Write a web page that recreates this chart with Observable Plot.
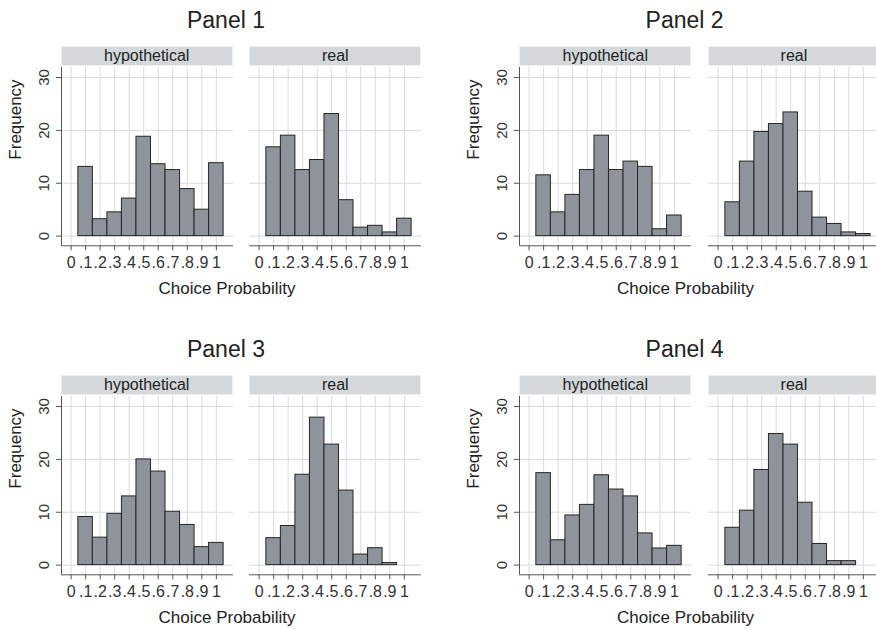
<!DOCTYPE html>
<html><head><meta charset="utf-8">
<script src="https://cdn.jsdelivr.net/npm/d3@7"></script>
<script src="https://cdn.jsdelivr.net/npm/@observablehq/plot@0.6"></script>
<style>
body{margin:0;background:#fff;font-family:"Liberation Sans",Arial,sans-serif;}
#root{position:relative;width:876px;height:629px;overflow:hidden;background:#fff}
.panel{position:absolute;width:458px;height:329px}
.title{position:absolute;left:0;width:452px;top:6px;text-align:center;font-size:23px;color:#222;line-height:28px}
.strip{position:absolute;top:45.7px;height:20.3px;width:172px;box-sizing:border-box;background:#d5d8db;border:1px solid #eceef0;text-align:center;font-size:16px;line-height:18px;color:#222}
.xlab{position:absolute;left:0;width:454px;top:278px;text-align:center;font-size:17px;color:#222;line-height:22px}
.plot{position:absolute}
.plot svg{overflow:visible}
</style></head><body><div id="root"></div>
<script>
// ---- data ----
const bins = [0.1, 0.2, 0.3, 0.4, 0.5, 0.6, 0.7, 0.8, 0.9, 1.0];
const binWidth = 0.1;
const panelTitles = ["Panel 1", "Panel 2", "Panel 3", "Panel 4"];
const groups = ["hypothetical", "real"];
const p1Hypothetical = [13.1, 3.2, 4.5, 7.1, 18.8, 13.6, 12.5, 8.9, 5.0, 13.8];
const p1Real         = [16.8, 19.0, 12.5, 14.4, 23.1, 6.8, 1.6, 1.95, 0.7, 3.3];
const p2Hypothetical = [11.5, 4.5, 7.8, 12.5, 19.0, 12.5, 14.1, 13.1, 1.3, 3.9];
const p2Real         = [6.4, 14.1, 19.7, 21.2, 23.4, 8.4, 3.5, 2.3, 0.7, 0.4];
const p3Hypothetical = [9.1, 5.2, 9.7, 13.0, 20.0, 17.7, 10.1, 7.6, 3.4, 4.2];
const p3Real         = [5.1, 7.4, 17.1, 27.9, 22.8, 14.1, 2.0, 3.2, 0.4, 0];
const p4Hypothetical = [17.4, 4.7, 9.4, 11.4, 17.0, 14.3, 13.0, 6.0, 3.15, 3.65];
const p4Real         = [7.06, 10.3, 18.0, 24.8, 22.8, 11.8, 4.0, 0.76, 0.76, 0];
const xTicks = [0, 0.1, 0.2, 0.3, 0.4, 0.5, 0.6, 0.7, 0.8, 0.9, 1];
const xTickLabels = ["0", ".1", ".2", ".3", ".4", ".5", ".6", ".7", ".8", ".9", "1"];
const yTicks = [0, 10, 20, 30];
const xLabel = "Choice Probability";
const yLabel = "Frequency";

const panelData = [
  [p1Hypothetical, p1Real],
  [p2Hypothetical, p2Real],
  [p3Hypothetical, p3Real],
  [p4Hypothetical, p4Real]
];

// ---- style / layout ----
const xDomain = [-0.066, 1.118];
const yDomain = [-1.83, 31.9];
const FONT = '"Liberation Sans", Arial, sans-serif';
const FRAME_W = 172, FRAME_H = 178.3;
const labelMap = new Map(xTicks.map((t, i) => [t, xTickLabels[i]]));

function facetPlot(values, left) {
  const data = bins.map((b, i) => ({bin: b, freq: values[i]})).filter(d => d.freq > 0);
  const ml = left ? 61 : 1;
  return Plot.plot({
    width: ml + FRAME_W + 1,
    height: 1 + FRAME_H + 32,
    marginLeft: ml, marginRight: 1, marginTop: 1, marginBottom: 32,
    style: {fontFamily: FONT, fontSize: "16px", color: "#333", background: "transparent"},
    x: {domain: xDomain, axis: null},
    y: {domain: yDomain, axis: null},
    marks: [
      Plot.gridX(xTicks, {stroke: "#d8dbde", strokeOpacity: 1}),
      Plot.gridY(yTicks, {stroke: "#d8dbde", strokeOpacity: 1}),
      Plot.rectY(data, {
        x1: d => d.bin - binWidth / 2,
        x2: d => d.bin + binWidth / 2,
        y: "freq",
        fill: "#8f939b",
        stroke: "#262626",
        strokeWidth: 1
      }),
      Plot.axisX(xTicks, {
        tickSize: 5, tickPadding: 6, stroke: "#555", strokeOpacity: 1,
        fill: "#333", fontSize: 16, tickFormat: d => labelMap.get(d), label: null
      }),
      left ? Plot.axisY(yTicks, {
        tickSize: 5, tickPadding: 8, tickRotate: -90, stroke: "#555", strokeOpacity: 1,
        fill: "#333", fontSize: 15, label: null
      }) : null,
      left ? Plot.text([yLabel], {
        frameAnchor: "left", rotate: -90, dx: -46, dy: 3,
        fontSize: 17, fill: "#222", text: d => d
      }) : null,
      left ? Plot.ruleX([xDomain[0]], {stroke: "#555"}) : null,
      Plot.ruleY([yDomain[0]], {stroke: "#555"})
    ]
  });
}

const root = document.getElementById("root");
const offsets = [[0, 0], [458.6, 0], [0, 329], [458.6, 329]];
panelTitles.forEach((title, p) => {
  const panel = document.createElement("div");
  panel.className = "panel";
  panel.style.left = offsets[p][0] + "px";
  panel.style.top = offsets[p][1] + "px";
  const t = document.createElement("div");
  t.className = "title"; t.textContent = title;
  panel.appendChild(t);
  groups.forEach((g, k) => {
    const frameLeft = k === 0 ? 60.7 : 249.3;
    const strip = document.createElement("div");
    strip.className = "strip";
    strip.style.left = frameLeft + "px";
    strip.textContent = g;
    panel.appendChild(strip);
    const holder = document.createElement("div");
    holder.className = "plot";
    holder.style.left = (frameLeft - (k === 0 ? 61 : 1)) + "px";
    holder.style.top = (66.7 - 1) + "px";
    holder.appendChild(facetPlot(panelData[p][k], k === 0));
    panel.appendChild(holder);
  });
  const xl = document.createElement("div");
  xl.className = "xlab"; xl.textContent = xLabel;
  panel.appendChild(xl);
  root.appendChild(panel);
});
</script></body></html>
